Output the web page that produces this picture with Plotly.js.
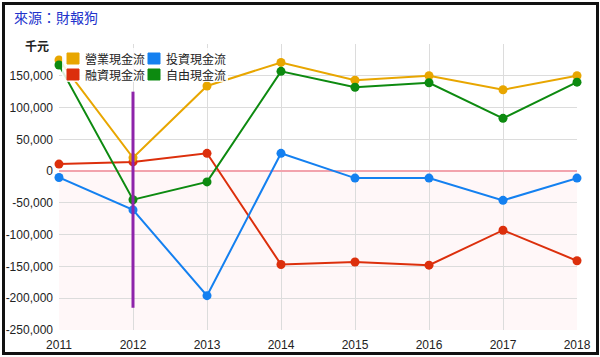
<!DOCTYPE html>
<html><head><meta charset="utf-8">
<script src="https://cdn.plot.ly/plotly-3.0.1.min.js"></script>
<style>
html,body{margin:0;padding:0;background:#fff;}
#wrap{position:relative;width:600px;height:357px;}
#chart{width:600px;height:357px;}
#frame{position:absolute;left:2px;top:2px;width:591px;height:347px;border:3px solid #111;pointer-events:none;}
</style></head>
<body><div id="wrap"><div id="chart"></div><div id="frame"></div></div>
<script>
const years = [2011, 2012, 2013, 2014, 2015, 2016, 2017, 2018];
const operatingCF = [175000, 21000, 134000, 171000, 143000, 150000, 128000, 150000];
const investingCF = [-10000, -61000, -196000, 28000, -11000, -11000, -46000, -11000];
const financingCF = [11000, 14500, 28000, -147000, -143000, -148000, -93000, -141000];
const freeCF = [167000, -45000, -17000, 157000, 132000, 139000, 83000, 140000];
const seriesNames = ['營業現金流', '投資現金流', '融資現金流', '自由現金流'];
const yTickVals = [-250000, -200000, -150000, -100000, -50000, 0, 50000, 100000, 150000, 200000];
const yTickText = ['-250,000', '-200,000', '-150,000', '-100,000', '-50,000', '0', '50,000', '100,000', '150,000', ''];
const markerYear = 2012;
const markerSpan = [125000, -215000];

const colors = ['#e8a600', '#1480f0', '#dc2f0c', '#0d8a10'];
const seriesData = [operatingCF, investingCF, financingCF, freeCF];
const W = 600, H = 357, M = {l:59, r:23, t:44, b:27};
const pw = W - M.l - M.r, ph = H - M.t - M.b;
const px = x => (x - M.l) / pw;
const py = y => (H - M.b - y) / ph;

const drawOrder = [2, 1, 0, 3];
const data = drawOrder.map(i => ({
  x: years, y: seriesData[i], type:'scatter', mode:'lines+markers', name:seriesNames[i], showlegend:false,
  line:{color:colors[i], width:2}, marker:{color:colors[i], size:9}, cliponaxis:false
}));

// custom 2x2 legend (swatch + label), positions in pixels
const legendPos = [[67, 53], [148, 53], [67, 69], [148, 69]];
const shapes = [
  {type:'rect', xref:'paper', x0:0, x1:1, yref:'y', y0:yTickVals[0], y1:0, fillcolor:'#fff7f8', line:{width:0}, layer:'below'},
  {type:'line', xref:'x', x0:markerYear, x1:markerYear, yref:'y', y0:markerSpan[0], y1:markerSpan[1], line:{color:'#8e24aa', width:3}, layer:'above'},
  {type:'rect', xref:'paper', yref:'paper', x0:px(62), x1:px(228), y0:py(48), y1:py(82),
   fillcolor:'rgba(255,255,255,0.85)', line:{width:0}, layer:'above'}
];
const annotations = [
  {text:'千元', xref:'paper', x:px(51), xanchor:'right', yref:'paper', y:py(46), yanchor:'middle', showarrow:false,
   font:{family:'Noto Sans CJK TC, sans-serif', size:12, color:'#222', weight:'bold'}}
];
legendPos.forEach((p, i) => {
  shapes.push({type:'rect', xref:'paper', yref:'paper', x0:px(p[0]), x1:px(p[0]+12), y0:py(p[1]), y1:py(p[1]+11),
    fillcolor:colors[i], line:{color:colors[i], width:1}, layer:'above'});
  annotations.push({text:seriesNames[i], xref:'paper', yref:'paper', x:px(p[0]+16), xanchor:'left', y:py(p[1]+5.5), yanchor:'middle',
    showarrow:false, font:{family:'Noto Sans CJK TC, sans-serif', size:12, color:'#222'}, bgcolor:'rgba(0,0,0,0)'});
});

const layout = {
  width:W, height:H, margin:M,
  paper_bgcolor:'#fff', plot_bgcolor:'#fff', showlegend:false,
  font:{family:'Liberation Sans, Arial, sans-serif', size:12, color:'#222'},
  title:{text:'來源：財報狗', x:0.0233, xanchor:'left', y:1 - 18/H, yanchor:'middle',
    font:{family:'Noto Sans CJK TC, sans-serif', size:14, color:'#2233cc'}},
  xaxis:{range:[2011, 2018], tickvals:years, ticktext:years.map(String), showgrid:true, gridcolor:'#dcdcdc',
    zeroline:false, showline:false, ticks:'', tickfont:{size:12, color:'#222'}, ticklabelstandoff:6},
  yaxis:{range:[-250000, 200000], tickvals:yTickVals, ticktext:yTickText, showgrid:true, gridcolor:'#dcdcdc',
    zeroline:true, zerolinecolor:'#f2a3ad', zerolinewidth:2, showline:false, ticks:'',
    tickfont:{size:12, color:'#222'}, ticklabelstandoff:5},
  shapes: shapes,
  annotations: annotations
};
Plotly.newPlot('chart', data, layout, {displayModeBar:false, staticPlot:true});
</script></body></html>
